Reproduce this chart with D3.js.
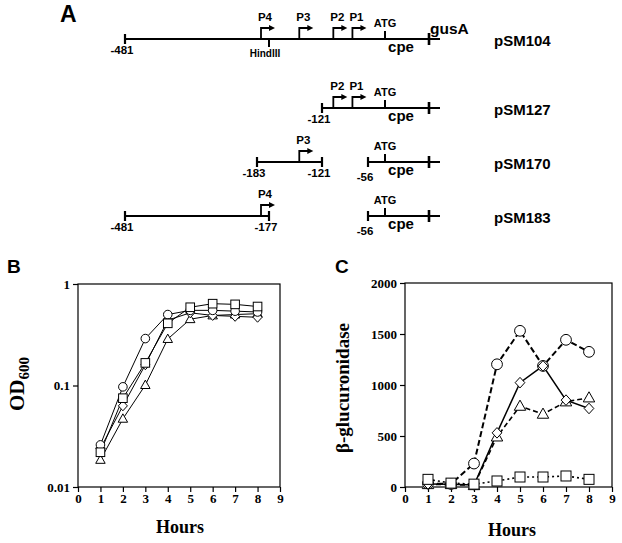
<!DOCTYPE html>
<html><head><meta charset="utf-8">
<script src="https://cdn.jsdelivr.net/npm/d3@7"></script>
<style>body{margin:0;background:#fff}svg{display:block}</style>
</head><body>
<script>
// ---------- Panel A data (bp coordinates relative to ATG) ----------
const constructs = ["pSM104", "pSM127", "pSM170", "pSM183"];
const segments = {
  pSM104: [[-481, 37]],
  pSM127: [[-121, 37]],
  pSM170: [[-183, -121], [-56, 37]],
  pSM183: [[-481, -177], [-56, 37]]
};
const endLabels = {
  pSM104: [-481],
  pSM127: [-121],
  pSM170: [-183, -121, -56],
  pSM183: [-481, -177, -56]
};
const promoterNames = ["P4", "P3", "P2", "P1"];
const promoterPos = [-181, -145, -105, -78];
const promotersIn = {
  pSM104: ["P4", "P3", "P2", "P1"],
  pSM127: ["P2", "P1"],
  pSM170: ["P3"],
  pSM183: ["P4"]
};
const atgPos = 1, fusionPos = 30, hindIIIPos = -177;

// ---------- Panel B data: OD600 ----------
const hours = [1, 2, 3, 4, 5, 6, 7, 8];
const odCircle   = [0.026, 0.097, 0.29, 0.50, 0.55, 0.55, 0.54, 0.53];
const odSquare   = [0.022, 0.075, 0.167, 0.41, 0.59, 0.64, 0.63, 0.60];
const odDiamond  = [0.024, 0.063, 0.16, 0.44, 0.52, 0.49, 0.48, 0.47];
const odTriangle = [0.0185, 0.047, 0.101, 0.287, 0.45, 0.49, 0.50, 0.51];
const odTicks = [0.01, 0.1, 1];

// ---------- Panel C data: beta-glucuronidase ----------
const gusCircle   = [35, 30, 230, 1203, 1531, 1187, 1443, 1325];
const gusDiamond  = [30, 28, 20, 531, 1023, 1187, 852, 770];
const gusTriangle = [25, 25, 15, 492, 793, 715, 836, 875];
const gusSquare   = [75, 38, 28, 59, 98, 98, 108, 75];
const gusTicks = [0, 500, 1000, 1500, 2000];
const hourTicks = [0, 1, 2, 3, 4, 5, 6, 7, 8, 9];

const W = 622, H = 543;
const svg = d3.select("body").append("svg").attr("width", W).attr("height", H);
const sans = "'Liberation Sans', Arial, Helvetica, sans-serif";
const serif = "'Liberation Serif', 'Times New Roman', serif";

// ================= Panel A =================
const bpX = d3.scaleLinear()
  .domain([-481, -183, -177, -121, -56, 1, 30, 37])
  .range([125, 257, 269, 322, 368, 385, 429, 440]);
const rowY = d3.scaleOrdinal().domain(constructs).range([39, 108, 162, 216]);
const A = svg.append("g");
A.append("text").attr("x", 60).attr("y", 22).text("A")
  .attr("font-family", sans).attr("font-weight", "bold").attr("font-size", 23);

constructs.forEach(c => {
  const y = rowY(c);
  const g = A.append("g");
  segments[c].forEach(([s, e]) => {
    g.append("line").attr("x1", bpX(s)).attr("x2", bpX(e)).attr("y1", y).attr("y2", y)
      .attr("stroke", "#000").attr("stroke-width", 2.2);
    g.append("line").attr("x1", bpX(s)).attr("x2", bpX(s)).attr("y1", y - 5).attr("y2", y + 5)
      .attr("stroke", "#000").attr("stroke-width", 2.2);
    if (e < 0) {
      g.append("line").attr("x1", bpX(e)).attr("x2", bpX(e)).attr("y1", y - 5).attr("y2", y + 5)
        .attr("stroke", "#000").attr("stroke-width", 2.2);
    }
  });
  g.append("line").attr("x1", bpX(fusionPos)).attr("x2", bpX(fusionPos)).attr("y1", y - 6).attr("y2", y + 6)
    .attr("stroke", "#000").attr("stroke-width", 2.6);
  g.append("line").attr("x1", bpX(atgPos)).attr("x2", bpX(atgPos)).attr("y1", y - 8).attr("y2", y)
    .attr("stroke", "#000").attr("stroke-width", 2);
  g.append("text").attr("x", bpX(atgPos)).attr("y", y - 12).attr("text-anchor", "middle")
    .attr("font-family", sans).attr("font-weight", "bold").attr("font-size", 11).text("ATG");
  g.append("text").attr("x", bpX(atgPos) + 16).attr("y", y + 13).attr("text-anchor", "middle")
    .attr("font-family", sans).attr("font-weight", "bold").attr("font-size", 15).text("cpe");
  promotersIn[c].forEach(p => {
    const px = bpX(promoterPos[promoterNames.indexOf(p)]);
    g.append("path").attr("d", `M${px},${y} V${y - 11} H${px + 9}`)
      .attr("fill", "none").attr("stroke", "#000").attr("stroke-width", 1.8);
    g.append("path").attr("d", `M${px + 8},${y - 14} L${px + 14},${y - 11} L${px + 8},${y - 8} Z`)
      .attr("fill", "#000");
    g.append("text").attr("x", px + 4).attr("y", y - 18).attr("text-anchor", "middle")
      .attr("font-family", sans).attr("font-weight", "bold").attr("font-size", 11.5).text(p);
  });
  endLabels[c].forEach(v => {
    const dy = v === -56 ? 19 : 15;
    g.append("text").attr("x", bpX(v) - 3).attr("y", y + dy).attr("text-anchor", "middle")
      .attr("font-family", sans).attr("font-weight", "bold").attr("font-size", 11.5).text(String(v));
  });
  g.append("text").attr("x", 494).attr("y", y + 7)
    .attr("font-family", sans).attr("font-weight", "bold").attr("font-size", 15).text(c);
  if (c === "pSM104") {
    g.append("line").attr("x1", bpX(hindIIIPos)).attr("x2", bpX(hindIIIPos)).attr("y1", y).attr("y2", y + 8)
      .attr("stroke", "#000").attr("stroke-width", 2);
    g.append("text").attr("x", bpX(hindIIIPos) - 4).attr("y", y + 18).attr("text-anchor", "middle")
      .attr("font-family", sans).attr("font-weight", "bold").attr("font-size", 10).text("HindIII");
    g.append("text").attr("x", 430).attr("y", y - 5)
      .attr("font-family", sans).attr("font-weight", "bold").attr("font-size", 15.5).text("gusA");
  }
});

// ================= marker helpers =================
function marker(sel, type, x, y, r) {
  let el;
  if (type === "circle") el = sel.append("circle").attr("cx", x).attr("cy", y).attr("r", r);
  else if (type === "square") el = sel.append("rect").attr("x", x - r).attr("y", y - r).attr("width", 2 * r).attr("height", 2 * r);
  else if (type === "diamond") el = sel.append("path").attr("d", `M${x},${y - r * 1.15} L${x + r * 1.05},${y} L${x},${y + r * 1.15} L${x - r * 1.05},${y} Z`);
  else el = sel.append("path").attr("d", `M${x},${y - r * 1.15} L${x + r * 1.1},${y + r * 0.8} L${x - r * 1.1},${y + r * 0.8} Z`);
  el.attr("fill", "#fff").attr("stroke", "#000").attr("stroke-width", 1);
}

function frameAxes(g, x, y, yTicks, yFmt) {
  const [x0, x1] = x.range(), [y0, y1] = y.range();
  g.append("rect").attr("x", x0).attr("y", y1).attr("width", x1 - x0).attr("height", y0 - y1)
    .attr("fill", "none").attr("stroke", "#000").attr("stroke-width", 1.2);
  const ax = g.append("g").attr("transform", `translate(0,${y0})`)
    .call(d3.axisBottom(x).tickValues(hourTicks).tickSize(5).tickPadding(2).tickFormat(d3.format("d")));
  const ay = g.append("g").attr("transform", `translate(${x0},0)`)
    .call(d3.axisLeft(y).tickValues(yTicks).tickSize(5).tickPadding(3).tickFormat(yFmt));
  [ax, ay].forEach(a => {
    a.select(".domain").remove();
    a.selectAll("line").attr("stroke-width", 1.2);
    a.selectAll("text").attr("font-family", serif).attr("font-weight", "bold").attr("font-size", 13).attr("fill", "#000");
  });
}

// ================= Panel B =================
const xB = d3.scaleLinear().domain([0, 9]).range([78, 280]);
const yB = d3.scaleLog().domain([0.01, 1]).range([487, 284]);
const B = svg.append("g");
B.append("text").attr("x", 7).attr("y", 273).text("B")
  .attr("font-family", sans).attr("font-weight", "bold").attr("font-size", 19);
frameAxes(B, xB, yB, odTicks, d => String(d));
const seriesB = [
  { v: odTriangle, m: "triangle" },
  { v: odDiamond, m: "diamond" },
  { v: odCircle, m: "circle" },
  { v: odSquare, m: "square" }
];
const lineB = d3.line().x((d, i) => xB(hours[i])).y(d => yB(d));
seriesB.forEach(s => B.append("path").attr("d", lineB(s.v)).attr("fill", "none")
  .attr("stroke", "#000").attr("stroke-width", 1));
seriesB.forEach(s => s.v.forEach((d, i) => marker(B, s.m, xB(hours[i]), yB(d), 4.3)));
B.append("text").attr("x", 180).attr("y", 533).attr("text-anchor", "middle")
  .attr("font-family", serif).attr("font-weight", "bold").attr("font-size", 18).text("Hours");
const odLab = B.append("text").attr("transform", "translate(24,384) rotate(-90)").attr("text-anchor", "middle")
  .attr("font-family", serif).attr("font-weight", "bold").attr("font-size", 21);
odLab.append("tspan").text("OD");
odLab.append("tspan").attr("font-size", 15).attr("dy", 5).text("600");

// ================= Panel C =================
const xC = d3.scaleLinear().domain([0, 9]).range([405, 612]);
const yC = d3.scaleLinear().domain([0, 2000]).range([487, 283]);
const C = svg.append("g");
C.append("text").attr("x", 335).attr("y", 273).text("C")
  .attr("font-family", sans).attr("font-weight", "bold").attr("font-size", 19);
frameAxes(C, xC, yC, gusTicks, d3.format("d"));
const seriesC = [
  { v: gusTriangle, m: "triangle", dash: "5,3", w: 1.6, r: 5.2 },
  { v: gusCircle, m: "circle", dash: "6,3", w: 2, r: 5.4 },
  { v: gusDiamond, m: "diamond", dash: null, w: 1.5, r: 4.6 },
  { v: gusSquare, m: "square", dash: "2,3", w: 1.6, r: 5 }
];
const lineC = d3.line().x((d, i) => xC(hours[i])).y(d => yC(d));
seriesC.forEach(s => C.append("path").attr("d", lineC(s.v)).attr("fill", "none")
  .attr("stroke", "#000").attr("stroke-width", s.w).attr("stroke-dasharray", s.dash));
seriesC.forEach(s => s.v.forEach((d, i) => marker(C, s.m, xC(hours[i]), yC(d), s.r)));
C.append("text").attr("x", 512).attr("y", 536).attr("text-anchor", "middle")
  .attr("font-family", serif).attr("font-weight", "bold").attr("font-size", 18).text("Hours");
C.append("text").attr("transform", "translate(349,388) rotate(-90)").attr("text-anchor", "middle")
  .attr("font-family", serif).attr("font-weight", "bold").attr("font-size", 19).text("β-glucuronidase");
</script>
</body></html>
